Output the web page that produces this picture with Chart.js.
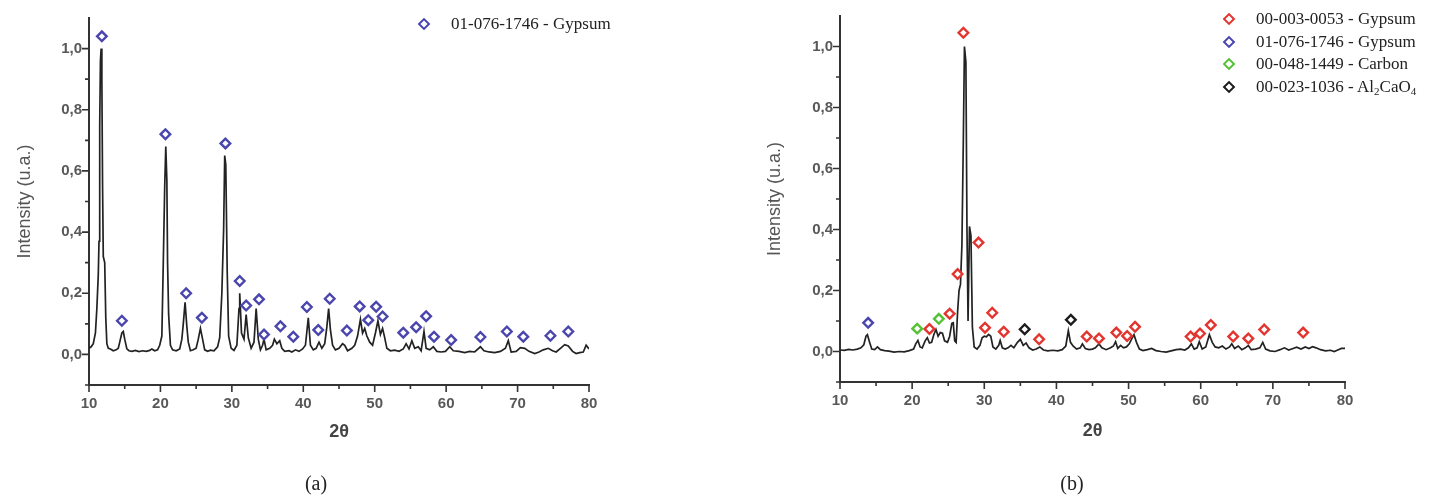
<!DOCTYPE html>
<html>
<head>
<meta charset="utf-8">
<script src="https://cdn.jsdelivr.net/npm/chart.js@4.4.1/dist/chart.umd.min.js"></script>
<style>
  html, body { margin: 0; padding: 0; background: #fff; }
  #page { position: relative; width: 1439px; height: 495px; overflow: hidden; }
  .panel { position: absolute; top: 0; height: 495px; }
  .legend { position: absolute; font-family: 'Liberation Serif', 'Times New Roman', serif; font-size: 17px; color: #222; }
  .legend .row { position: absolute; left: 0; white-space: nowrap; }
  .legend .mk { position: absolute; left: 0; top: 0; width: 9px; height: 9px; box-sizing: border-box;
    border: 2.5px solid #000; background: #fff; transform: translate(-50%, -50%) rotate(45deg); }
  .legend .txt { position: absolute; top: -11px; line-height: 22px; }
  .legend sub { font-size: 11px; vertical-align: -3px; line-height: 0; }
  .caption { position: absolute; top: 471px; line-height: 24px; transform: translateX(-50%);
    font-family: 'Liberation Serif', 'Times New Roman', serif; font-size: 20px; color: #222; }
</style>
</head>
<body>
<div id="page">
  <div class="panel" style="left:0;width:720px"><canvas id="chartA" width="720" height="495"></canvas></div>
  <div class="panel" style="left:720px;width:719px"><canvas id="chartB" width="719" height="495"></canvas></div>
  <div class="legend" id="legendA" style="left:424px;top:24px"></div>
  <div class="legend" id="legendB" style="left:1229px;top:19px"></div>
  <div class="caption" style="left:316px">(a)</div>
  <div class="caption" style="left:1072px">(b)</div>
</div>
<script>
// ---- axes ----
const X_TICKS = [10, 20, 30, 40, 50, 60, 70, 80];
const X_MINOR = [15, 25, 35, 45, 55, 65, 75];
const Y_TICKS = [0, 0.2, 0.4, 0.6, 0.8, 1.0];
const Y_MINOR = [-0.1, 0.1, 0.3, 0.5, 0.7, 0.9];

// ---- (a) diffractogram ----
const twoThetaA = [10.0, 10.3, 10.6, 10.9, 11.1, 11.3, 11.4, 11.5, 11.6, 11.7, 11.8, 11.9, 12.0, 12.2, 12.35, 12.5, 12.7, 13.0, 13.4, 13.8,
  14.1, 14.35, 14.6, 14.8, 15.0, 15.3, 15.6, 16.0, 16.5, 17.0, 17.5, 18.0, 18.5, 18.8, 19.2, 19.6, 19.9, 20.2, 20.4, 20.6,
  20.75, 20.9, 21.0, 21.15, 21.4, 21.7, 22.2, 22.7, 23.0, 23.2, 23.45, 23.7, 23.9, 24.2, 24.6, 25.0, 25.3, 25.6, 25.9, 26.2,
  26.6, 27.0, 27.5, 28.0, 28.3, 28.6, 28.85, 29.0, 29.15, 29.35, 29.55, 29.9, 30.3, 30.7, 31.0, 31.1, 31.35, 31.7, 32.0, 32.3,
  32.7, 33.1, 33.4, 33.7, 34.0, 34.3, 34.5, 34.8, 35.3, 35.7, 35.95, 36.3, 36.7, 37.0, 37.4, 38.0, 38.4, 38.9, 39.4, 39.9,
  40.3, 40.7, 41.0, 41.4, 41.8, 42.2, 42.6, 43.0, 43.3, 43.55, 43.8, 44.1, 44.5, 45.0, 45.5, 45.8, 46.2, 46.8, 47.2, 47.6,
  48.0, 48.3, 48.6, 48.9, 49.3, 49.7, 50.1, 50.45, 50.8, 51.1, 51.35, 51.7, 52.2, 52.8, 53.4, 54.0, 54.4, 54.8, 55.2, 55.6,
  56.1, 56.5, 56.9, 57.2, 57.7, 58.2, 58.7, 59.3, 59.9, 60.5, 61.0, 61.8, 62.6, 63.3, 64.0, 64.8, 65.3, 66.0, 66.8, 67.6,
  68.3, 68.7, 69.1, 69.8, 70.4, 71.0, 71.6, 72.4, 73.0, 73.6, 74.3, 74.9, 75.4, 76.0, 76.6, 77.1, 77.7, 78.2, 78.7, 79.2,
  79.6, 80.0];
const intensityA = [0.02, 0.025, 0.035, 0.07, 0.15, 0.26, 0.37, 0.75, 0.96, 1.0, 0.9, 0.55, 0.32, 0.3, 0.12, 0.035, 0.02, 0.018, 0.012, 0.015,
  0.02, 0.045, 0.07, 0.075, 0.05, 0.018, 0.012, 0.01, 0.013, 0.009, 0.012, 0.01, 0.013, 0.018, 0.012, 0.015, 0.03, 0.06, 0.3, 0.55,
  0.68, 0.57, 0.3, 0.13, 0.03, 0.015, 0.012, 0.018, 0.05, 0.1, 0.17, 0.09, 0.04, 0.012, 0.015, 0.02, 0.05, 0.085, 0.05, 0.015,
  0.01, 0.014, 0.012, 0.025, 0.055, 0.2, 0.41, 0.65, 0.62, 0.27, 0.06, 0.02, 0.013, 0.03, 0.15, 0.2, 0.07, 0.05, 0.13, 0.055,
  0.02, 0.04, 0.15, 0.05, 0.015, 0.03, 0.05, 0.015, 0.02, 0.03, 0.05, 0.035, 0.045, 0.02, 0.01, 0.012, 0.008, 0.015, 0.01, 0.018,
  0.03, 0.12, 0.03, 0.015, 0.02, 0.04, 0.02, 0.035, 0.09, 0.15, 0.08, 0.03, 0.015, 0.02, 0.035, 0.03, 0.012, 0.02, 0.03, 0.06,
  0.115, 0.07, 0.085, 0.06, 0.04, 0.03, 0.07, 0.11, 0.065, 0.085, 0.06, 0.02, 0.012, 0.014, 0.01, 0.018, 0.035, 0.018, 0.045, 0.02,
  0.025, 0.012, 0.075, 0.02, 0.015, 0.025, 0.01, 0.008, 0.01, 0.025, 0.012, 0.01, 0.006, 0.01, 0.008, 0.025, 0.012, 0.008, 0.006, 0.01,
  0.02, 0.045, 0.008, 0.01, 0.022, 0.02, 0.01, 0.003, 0.008, 0.015, 0.02, 0.012, 0.008, 0.02, 0.032, 0.028, 0.01, 0.003, 0.006, 0.008,
  0.03, 0.018];
const gypsumA_x = [11.8, 14.6, 20.7, 23.6, 25.8, 29.1, 31.1, 32.0, 33.8, 34.5, 36.8, 38.6, 40.5, 42.1, 43.7, 46.1, 47.9, 49.1, 50.2, 51.1,
  54.0, 55.8, 57.2, 58.3, 60.7, 64.8, 68.5, 70.8, 74.6, 77.1];
const gypsumA_y = [1.04, 0.11, 0.72, 0.2, 0.12, 0.69, 0.24, 0.16, 0.18, 0.065, 0.092, 0.058, 0.155, 0.08, 0.182, 0.078, 0.157, 0.112, 0.156, 0.124,
  0.071, 0.089, 0.125, 0.058, 0.047, 0.057, 0.075, 0.058, 0.061, 0.075];

// ---- (b) diffractogram ----
const twoThetaB = [10.0, 10.6, 11.2, 11.8, 12.4, 12.9, 13.3, 13.6, 13.8, 14.1, 14.4, 14.8, 15.2, 15.6, 16.2, 16.8, 17.5, 18.2, 18.9, 19.6,
  20.2, 20.5, 20.8, 21.1, 21.4, 21.8, 22.1, 22.4, 22.7, 23.0, 23.3, 23.6, 23.9, 24.2, 24.5, 24.9, 25.2, 25.5, 25.7, 25.9,
  26.1, 26.3, 26.5, 26.7, 26.9, 27.1, 27.25, 27.45, 27.6, 27.75, 27.95, 28.15, 28.35, 28.6, 29.0, 29.4, 29.7, 30.0, 30.3, 30.6,
  30.9, 31.2, 31.6, 32.0, 32.2, 32.5, 32.9, 33.3, 33.7, 34.1, 34.6, 35.0, 35.4, 35.8, 36.2, 36.7, 37.2, 37.7, 38.2, 38.8,
  39.5, 40.2, 40.8, 41.3, 41.65, 41.95, 42.3, 42.8, 43.3, 43.6, 44.0, 44.5, 45.0, 45.4, 45.9, 46.3, 46.9, 47.5, 47.9, 48.2,
  48.5, 48.9, 49.3, 49.7, 50.1, 50.4, 50.75, 51.1, 51.5, 52.0, 52.6, 53.2, 53.8, 54.5, 55.2, 55.9, 56.6, 57.2, 57.8, 58.3,
  58.7, 59.1, 59.5, 59.8, 60.2, 60.7, 61.2, 61.6, 62.0, 62.5, 63.0, 63.5, 64.0, 64.3, 64.7, 65.2, 65.7, 66.2, 66.6, 67.0,
  67.6, 68.2, 68.6, 69.0, 69.6, 70.3, 71.0, 71.6, 72.2, 72.8, 73.3, 73.9, 74.5, 75.0, 75.5, 76.0, 76.6, 77.3, 78.0, 78.5,
  79.0, 79.5, 80.0];
const intensityB = [0.005, 0.004, 0.007, 0.005, 0.008, 0.012, 0.022, 0.05, 0.055, 0.03, 0.008, 0.006, 0.015, 0.006, 0.003, 0.001, -0.002, 0.0, -0.001, 0.003,
  0.008, 0.025, 0.036, 0.015, 0.012, 0.035, 0.045, 0.028, 0.03, 0.055, 0.072, 0.05, 0.062, 0.06, 0.035, 0.03, 0.05, 0.092, 0.094, 0.035,
  0.03, 0.13, 0.2, 0.22, 0.35, 0.7, 1.0, 0.95, 0.4, 0.1, 0.41, 0.38, 0.08, 0.015, 0.008, 0.02, 0.045, 0.05, 0.048, 0.056,
  0.05, 0.015, 0.008, 0.02, 0.036, 0.012, 0.008, 0.012, 0.02, 0.012, 0.03, 0.04, 0.02, 0.028, 0.012, 0.005, 0.008, 0.015, 0.005, 0.002,
  0.004, 0.002, 0.006, 0.018, 0.068, 0.03, 0.018, 0.008, 0.012, 0.025, 0.01, 0.006, 0.008, 0.012, 0.025, 0.012, 0.006, 0.012, 0.018, 0.032,
  0.01, 0.02, 0.012, 0.015, 0.025, 0.04, 0.055, 0.03, 0.008, 0.003, 0.006, 0.01, 0.003, 0.0, -0.002, 0.002, 0.006, 0.008, 0.005, 0.012,
  0.025, 0.008, 0.012, 0.032, 0.008, 0.015, 0.055, 0.03, 0.015, 0.012, 0.018, 0.008, 0.015, 0.025, 0.01, 0.018, 0.006, 0.012, 0.02, 0.006,
  0.008, 0.012, 0.03, 0.008, 0.002, 0.0, 0.006, 0.012, 0.005, 0.01, 0.014, 0.008, 0.015, 0.01, 0.016, 0.012, 0.006, 0.002, 0.004, 0.0,
  0.005, 0.01, 0.01];
const gypsumB_x = [22.4, 25.2, 26.3, 27.1, 29.2, 30.1, 31.1, 32.7, 37.6, 44.2, 45.9, 48.3, 49.8, 50.9, 58.6, 59.9, 61.4, 64.5, 66.6, 68.8, 74.2];
const gypsumB_y = [0.074, 0.124, 0.254, 1.045, 0.357, 0.078, 0.127, 0.065, 0.04, 0.049, 0.043, 0.062, 0.051, 0.081, 0.049, 0.059, 0.087, 0.049, 0.043, 0.072, 0.062];
const gypsum2B_x = [13.9];
const gypsum2B_y = [0.094];
const carbonB_x = [20.7, 23.7];
const carbonB_y = [0.075, 0.107];
const alCaB_x = [35.6, 42.0];
const alCaB_y = [0.073, 0.104];

const legendA = ['01-076-1746 - Gypsum'];
const legendB = ['00-003-0053 - Gypsum', '01-076-1746 - Gypsum', '00-048-1449 - Carbon', '00-023-1036 - Al<sub>2</sub>CaO<sub>4</sub>'];
const colorsA = ['#4a46ad'];
const colorsB = ['#e3352f', '#4a46ad', '#55c236', '#1c1c1c'];

const pts = (xs, ys) => xs.map((x, i) => ({ x, y: ys[i] }));

function traceSet(xs, ys) {
  return { label: 'XRD', data: pts(xs, ys), showLine: true, borderColor: '#222', borderWidth: 1.7,
    pointRadius: 0, tension: 0, order: 10 };
}
function markerSet(label, xs, ys, color) {
  return { label: label.replace(/<[^>]+>/g, ''), data: pts(xs, ys), showLine: false, pointStyle: 'rectRot',
    pointRadius: 4.8, borderWidth: 2.4, borderColor: color, backgroundColor: '#fff', order: 0 };
}

const tickMarks = {
  id: 'tickMarks',
  afterDraw(chart) {
    const { ctx, scales: { x, y } } = chart;
    ctx.save();
    ctx.strokeStyle = '#333';
    ctx.lineWidth = 1.6;
    ctx.beginPath();
    X_TICKS.forEach(v => { const p = x.getPixelForValue(v); ctx.moveTo(p, x.top); ctx.lineTo(p, x.top + 7); });
    X_MINOR.forEach(v => { const p = x.getPixelForValue(v); ctx.moveTo(p, x.top); ctx.lineTo(p, x.top + 4); });
    Y_TICKS.forEach(v => { const p = y.getPixelForValue(v); ctx.moveTo(y.right, p); ctx.lineTo(y.right - 7, p); });
    Y_MINOR.forEach(v => { const p = y.getPixelForValue(v); ctx.moveTo(y.right, p); ctx.lineTo(y.right - 4, p); });
    ctx.stroke();
    ctx.restore();
  }
};

const tickFont = { family: "'Liberation Sans', Arial, sans-serif", size: 15, weight: 'bold' };
const titleFont = { family: "'Liberation Sans', Arial, sans-serif", size: 18 };

function makeChart(id, datasets, pad, yTitlePad, xTitlePad) {
  return new Chart(document.getElementById(id), {
    type: 'scatter',
    data: { datasets },
    options: {
      responsive: false,
      animation: false,
      layout: { padding: pad },
      plugins: { legend: { display: false }, tooltip: { enabled: false } },
      scales: {
        x: {
          type: 'linear', min: 10, max: 80,
          afterBuildTicks: s => { s.ticks = X_TICKS.map(v => ({ value: v })); },
          afterFit: s => { s.height = 70; },
          grid: { display: false, drawTicks: false },
          border: { display: true, color: '#333', width: 2 },
          ticks: { padding: 10, font: tickFont, color: '#585858', maxRotation: 0, autoSkip: false, callback: v => String(v) },
          title: { display: true, text: '2θ', font: { ...titleFont, weight: 'bold' }, color: '#444', padding: { top: 0, bottom: xTitlePad } }
        },
        y: {
          type: 'linear', min: -0.1, max: 1.1,
          afterBuildTicks: s => { s.ticks = Y_TICKS.map(v => ({ value: v })); },
          afterFit: s => { s.width = 89; },
          grid: { display: false, drawTicks: false },
          border: { display: true, color: '#333', width: 2 },
          ticks: { padding: 7, font: tickFont, color: '#585858', callback: v => v.toFixed(1).replace('.', ',') },
          title: { display: true, text: 'Intensity (u.a.)', font: titleFont, color: '#555', padding: { top: yTitlePad, bottom: 0 } }
        }
      }
    },
    plugins: [tickMarks]
  });
}

makeChart('chartA', [
  markerSet(legendA[0], gypsumA_x, gypsumA_y, colorsA[0]),
  traceSet(twoThetaA, intensityA)
], { left: 0, right: 131, top: 18, bottom: 40 }, 14, 12);

makeChart('chartB', [
  markerSet(legendB[0], gypsumB_x, gypsumB_y, colorsB[0]),
  markerSet(legendB[1], gypsum2B_x, gypsum2B_y, colorsB[1]),
  markerSet(legendB[2], carbonB_x, carbonB_y, colorsB[2]),
  markerSet(legendB[3], alCaB_x, alCaB_y, colorsB[3]),
  traceSet(twoThetaB, intensityB)
], { left: 31, right: 94, top: 13, bottom: 43 }, 13, 10);

function buildLegend(id, labels, colors, textOffset, rowGap) {
  const el = document.getElementById(id);
  labels.forEach((lab, i) => {
    const row = document.createElement('div');
    row.className = 'row';
    row.style.top = (i * rowGap) + 'px';
    row.innerHTML = '<span class="mk" style="border-color:' + colors[i] + '"></span>' +
      '<span class="txt" style="left:' + textOffset + 'px">' + lab + '</span>';
    el.appendChild(row);
  });
}
buildLegend('legendA', legendA, colorsA, 27, 22);
buildLegend('legendB', legendB, colorsB, 27, 22.5);
</script>
</body>
</html>
